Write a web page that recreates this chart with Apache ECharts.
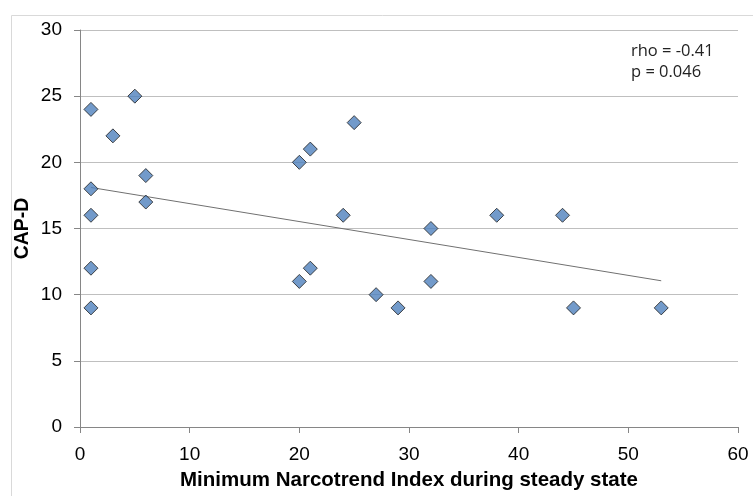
<!DOCTYPE html>
<html>
<head>
<meta charset="utf-8">
<script src="https://cdn.jsdelivr.net/npm/echarts@6/dist/echarts.min.js"></script>
<style>
  html, body { margin: 0; padding: 0; background: #fff; }
  #chart { width: 753px; height: 496px; }
</style>
</head>
<body>
<div id="chart"></div>
<script>
// minimum Narcotrend index vs CAP-D
var narcotrendIndex = [1, 1, 1, 1, 1, 3, 5, 6, 6, 20, 20, 21, 21, 24, 25, 27, 29, 32, 32, 38, 44, 45, 53]
var capD = [24, 18, 16, 12, 9, 22, 25, 19, 17, 20, 11, 21, 12, 16, 23, 10, 9, 15, 11, 16, 16, 9, 9]
// trend line end points
var trendX = [1, 53]
var trendY = [18.1, 11.05]
var statsText = ['rho = -0.41', 'p = 0.046']

var chart = echarts.init(document.getElementById('chart'))

var points = narcotrendIndex.map(function (x, i) { return [x, capD[i]] })
var trend = trendX.map(function (x, i) { return [x, trendY[i]] })

chart.setOption({
  animation: false,
  graphic: [
    {
      type: 'rect',
      left: 9,
      top: 13,
      shape: { width: 800, height: 600 },
      style: { fill: 'none', stroke: '#d9d9d9', lineWidth: 1 },
      silent: true
    },
    {
      type: 'text',
      left: 631,
      top: 41,
      style: {
        text: statsText.join('\n'),
        font: '16.5px "Open Sans", sans-serif',
        lineHeight: 21,
        fill: '#222'
      }
    }
  ],
  grid: {
    left: 80,
    right: 15,
    top: 30,
    bottom: 68
  },
  xAxis: {
    type: 'value',
    min: 0,
    max: 60,
    interval: 10,
    name: 'Minimum Narcotrend Index during steady state',
    nameLocation: 'middle',
    nameGap: 43,
    nameMoveOverlap: false,
    nameTextStyle: {
      fontFamily: 'Liberation Sans',
      fontWeight: 'bold',
      fontSize: 20.5,
      color: '#000'
    },
    axisLine: { lineStyle: { color: '#868686' } },
    axisTick: { show: true, length: 6, lineStyle: { color: '#868686' } },
    axisLabel: {
      margin: 18,
      fontFamily: 'Liberation Sans',
      fontSize: 19,
      color: '#000'
    },
    splitLine: { show: false }
  },
  yAxis: {
    type: 'value',
    min: 0,
    max: 30,
    interval: 5,
    name: 'CAP-D',
    nameLocation: 'middle',
    nameGap: 47,
    nameMoveOverlap: false,
    nameRotate: 90,
    nameTextStyle: {
      fontFamily: 'Liberation Sans',
      fontWeight: 'bold',
      fontSize: 19.5,
      color: '#000'
    },
    axisLine: { show: true, lineStyle: { color: '#868686' } },
    axisTick: { show: true, length: 6, lineStyle: { color: '#868686' } },
    axisLabel: {
      margin: 18,
      fontFamily: 'Liberation Sans',
      fontSize: 19,
      color: '#000'
    },
    splitLine: { show: true, lineStyle: { color: '#bfbfbf', width: 1 } }
  },
  series: [
    {
      type: 'line',
      data: trend,
      symbol: 'none',
      lineStyle: { color: '#707070', width: 1 },
      z: 2
    },
    {
      type: 'scatter',
      data: points,
      symbol: 'diamond',
      symbolSize: 14,
      itemStyle: {
        color: '#4f81bd',
        borderColor: '#1f1f1f',
        borderWidth: 1
      },
      z: 3
    }
  ]
})
</script>
</body>
</html>
